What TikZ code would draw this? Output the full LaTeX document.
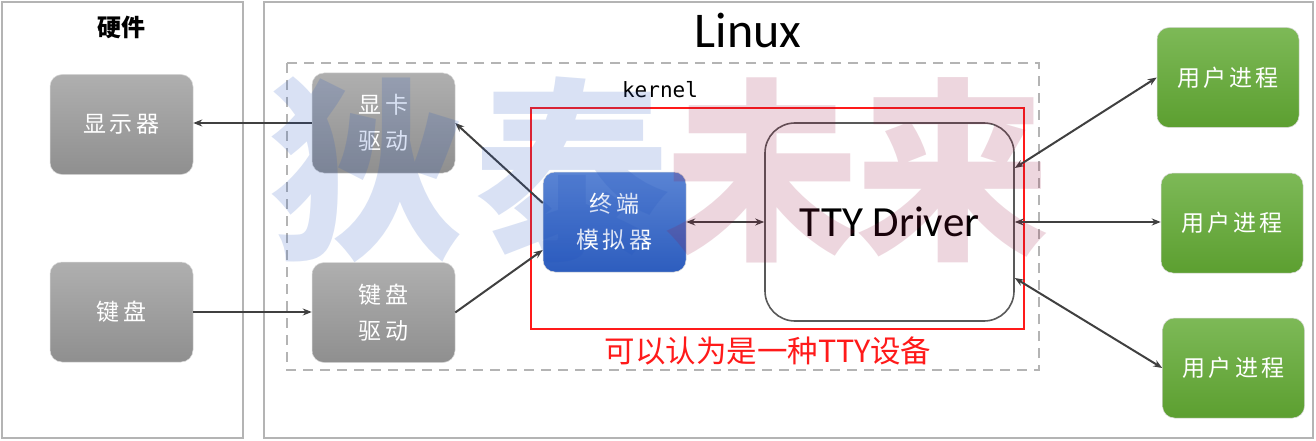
\documentclass[tikz,border=0pt]{standalone}
\usepackage{fontspec}
\setmainfont{Carlito}
\newfontfamily\cjk{Noto Sans CJK SC}
\newfontfamily\cjkls[LetterSpace=14]{Noto Sans CJK SC}
\newfontfamily\monofnt{DejaVu Sans Mono}
\usetikzlibrary{arrows.meta,calc}
\definecolor{panel}{HTML}{B4B4B4}
\definecolor{gtop}{HTML}{AFAFAF}
\definecolor{gbot}{HTML}{8F8F8F}
\definecolor{btop}{HTML}{5A84D4}
\definecolor{bbot}{HTML}{2D5DBE}
\definecolor{ntop}{HTML}{7DB957}
\definecolor{nbot}{HTML}{5C9F30}
\definecolor{arrc}{HTML}{404040}
\definecolor{wmblue}{RGB}{30,80,190}
\definecolor{wmpink}{RGB}{150,16,61}
\definecolor{redc}{HTML}{FF1A1A}
\tikzset{
  panelbox/.style={draw=panel, line width=2.2pt},
  basebox/.style={rounded corners=12pt, minimum width=143pt, minimum height=100pt,
    draw=white!85!black, line width=0.5pt, text=white, align=center, inner sep=0pt,
    font=\cjkls\fontsize{23}{36}\selectfont},
  graybox/.style={basebox, top color=gtop, bottom color=gbot},
  bluebox/.style={basebox, top color=btop, bottom color=bbot},
  greenbox/.style={basebox, minimum width=142pt, top color=ntop, bottom color=nbot},
  conn/.style={draw=arrc, line width=2pt, -{Stealth[length=9pt,width=7pt]}},
  bidir/.style={draw=arrc, line width=2pt, {Stealth[length=9pt,width=7pt]}-{Stealth[length=9pt,width=7pt]}},
}
\begin{document}
\begin{tikzpicture}[x=1pt,y=-1pt]
\useasboundingbox (0,0) rectangle (1316,441);
\fill[white] (0,0) rectangle (1316,441);
% panels
\draw[panelbox] (2,2) rectangle (243,438);
\draw[panelbox] (264,2) rectangle (1313,438);
\node[font=\cjk\bfseries\fontsize{24}{26}\selectfont] (hwtitle) at (121,27) {硬件};
\node[font=\fontsize{50}{52}\selectfont] (linuxtitle) at (748,30) {Linux};
% kernel dashed
\draw[draw=panel, line width=2.5pt, dash pattern=on 10pt off 7pt] (287,63) rectangle (1039,370);
\node[font=\monofnt\fontsize{21}{22}\selectfont] (kerneltxt) at (660,90) {kernel};
% red box
\draw[draw=redc, line width=2.5pt] (531,108) rectangle (1024,329);
\node[text=redc, font=\cjk\fontsize{30.5}{32}\selectfont] (redtxt) at (768,351) {可以认为是一种TTY设备};
% nodes
\node[graybox] (mon) at (121.5,124.5) {显示器};
\node[graybox] (kb) at (121.5,312) {键盘};
\node[graybox] (gpu) at (383.5,123) {显卡\\驱动};
\node[graybox] (kbd) at (383.5,312.5) {键盘\\驱动};
\node[bluebox] (term) at (614.5,222) {终端\\模拟器};
\node[draw=black!65, line width=1.6pt, rounded corners=30pt, minimum width=249pt, minimum height=198pt,
  font=\fontsize{43}{45}\selectfont] (tty) at (889.5,222) {TTY Driver};
\node[greenbox] (up1) at (1228,77.5) {用户进程};
\node[greenbox] (up2) at (1232,223) {用户进程};
\node[greenbox] (up3) at (1233.5,368) {用户进程};
% connectors
\draw[conn] (gpu.west) -- (gpu.west -| mon.east);
\draw[conn] (kb.east) -- (kb.east -| kbd.west);
\draw[conn] ([yshift=19pt]term.west) -- (gpu.east);
\draw[conn] (kbd.east) -- ([yshift=-28pt]term.west);
\draw[bidir] (term.east) -- (tty.west);
\draw[bidir] ([yshift=54pt]tty.east) -- (up1.west);
\draw[bidir] (tty.east) -- (tty.east -| up2.west);
\draw[bidir] ([yshift=-56pt]tty.east) -- (up3.west);
% watermark
\node[text=wmblue, text opacity=0.17, font=\cjk\bfseries\fontsize{195}{200}\selectfont, inner sep=0pt] (wm1) at (367,170) {狄};
\node[text=wmblue, text opacity=0.17, font=\cjk\bfseries\fontsize{195}{200}\selectfont, inner sep=0pt] (wm2) at (572,170) {泰};
\node[text=wmpink, text opacity=0.17, font=\cjk\bfseries\fontsize{195}{200}\selectfont, inner sep=0pt] (wm3) at (762,170) {未};
\node[text=wmpink, text opacity=0.17, font=\cjk\bfseries\fontsize{195}{200}\selectfont, inner sep=0pt] (wm4) at (953,170) {来};
\end{tikzpicture}
\end{document}
